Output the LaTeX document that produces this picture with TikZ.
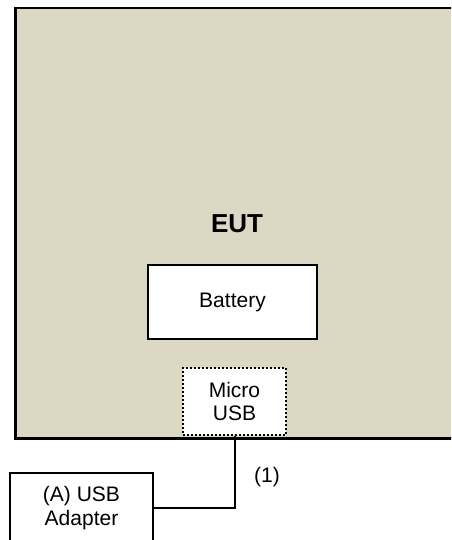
\documentclass[tikz,border=0pt]{standalone}
\usepackage{fontspec}
\setmainfont{Liberation Sans}
\definecolor{eutfill}{RGB}{221,216,195}
\begin{document}
\begin{tikzpicture}[x=1pt, y=-1pt,
    box/.style={draw=black, line width=2pt, fill=white, align=center, inner sep=0pt, font=\fontsize{21}{23.5}\selectfont},
    cable/.style={draw=black, line width=2pt}]
    \useasboundingbox (0,0) rectangle (451,540);
    \clip (0,0) rectangle (451,540);

    % Contenitore EUT
    \node[draw=black, line width=2.5pt, fill=eutfill, minimum width=480pt, minimum height=430pt, inner sep=0pt, anchor=north west] (eut) at (14,7) {};
    \node[font=\bfseries\fontsize{26}{30}\selectfont] (eutlabel) at (237,224) {EUT};

    % Batteria e porta USB
    \node[box, minimum width=169pt, minimum height=74pt] (battery) at (232.5,302) {Battery};
    \node[box, dotted, line width=1.6pt, minimum width=103pt, minimum height=67pt] (usb) at (234.5,401.5) {Micro\\USB};

    % Adattatore esterno
    \node[box, minimum width=143pt, minimum height=70pt] (adapter) at (81.5,508) {(A) USB\\Adapter};

    % Cavo
    \draw[cable] (usb.south) |- (adapter.east);
    \node[font=\fontsize{21}{23.5}\selectfont] (cable1) at (267,477) {(1)};
\end{tikzpicture}
\end{document}
